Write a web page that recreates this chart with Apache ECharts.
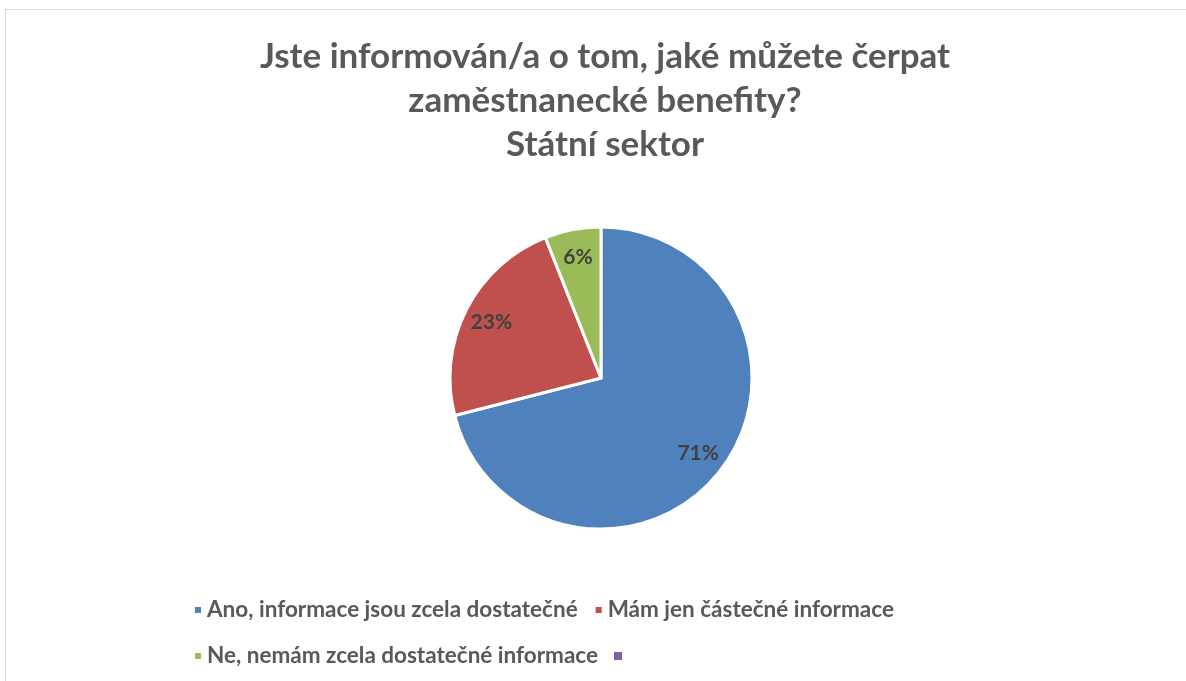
<!DOCTYPE html>
<html>
<head>
<meta charset="utf-8">
<script src="https://cdn.jsdelivr.net/npm/echarts@6/dist/echarts.min.js"></script>
<style>
  html, body { margin: 0; padding: 0; background: #fff; }
  #frame { position: absolute; left: 5px; top: 9px; width: 1200px; height: 700px; border: 1px solid #d9d9d9; box-sizing: border-box; }
  #chart { position: absolute; left: 0; top: 0; width: 1186px; height: 681px; }
</style>
</head>
<body>
<div id="frame"></div>
<div id="chart"></div>
<script>
// answers and shares (%)
const categories = [
  'Ano, informace jsou zcela dostatečné',
  'Mám jen částečné informace',
  'Ne, nemám zcela dostatečné informace',
  ' '
];
const shares = [71, 23, 6, 0];
const colors = ['#4F81BD', '#C0504D', '#9BBB59', '#8064A2'];
const titleText = 'Jste informován/a o tom, jaké můžete čerpat\nzaměstnanecké benefity?\nStátní sektor';

const font = 'Lato, "Open Sans", sans-serif';

const chart = echarts.init(document.getElementById('chart'));

const pieData = categories.map((name, i) => ({
  name,
  value: shares[i],
  itemStyle: { color: colors[i], borderWidth: shares[i] ? 3 : 0 }
}));

chart.setOption({
  backgroundColor: 'transparent',
  color: colors,
  title: {
    text: titleText,
    left: 600,
    textAlign: 'center',
    top: 30,
    textStyle: {
      fontFamily: font,
      fontSize: 35,
      fontWeight: 'bold',
      color: '#595959',
      lineHeight: 44
    }
  },
  legend: {
    left: 188,
    top: 590,
    width: 800,
    itemWidth: 8,
    itemHeight: 8,
    itemGap: 16,
    icon: 'rect',
    data: categories,
    textStyle: {
      fontFamily: font,
      fontSize: 22.5,
      fontWeight: 'bold',
      color: '#595959',
      lineHeight: 30
    }
  },
  series: [
    {
      type: 'pie',
      center: [601, 378],
      radius: [0, 151],
      startAngle: 90,
      clockwise: true,
      label: { show: false },
      labelLine: { show: false },
      itemStyle: { borderColor: '#fff', borderWidth: 3 },
      emphasis: { scale: false },
      data: pieData
    },
    {
      // label-only ring so the percentages sit at ~0.8 of the radius
      type: 'pie',
      center: [601, 378],
      radius: [0, 240],
      startAngle: 90,
      clockwise: true,
      silent: true,
      legendHoverLink: false,
      itemStyle: { color: 'rgba(0,0,0,0)', borderWidth: 0 },
      labelLine: { show: false },
      label: {
        position: 'inside',
        formatter: '{c}%',
        fontFamily: font,
        fontSize: 21,
        fontWeight: 'bold',
        color: '#404040'
      },
      data: categories.map((name, i) => ({
        name,
        value: shares[i],
        label: { show: shares[i] > 0 }
      }))
    }
  ]
});
</script>
</body>
</html>
